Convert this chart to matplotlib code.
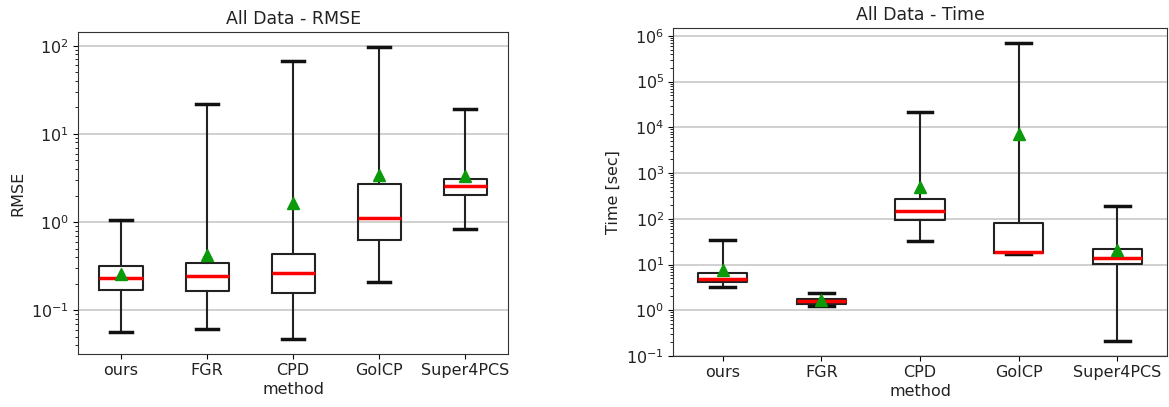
import matplotlib
matplotlib.use("Agg")
import matplotlib.pyplot as plt

plt.rcParams['font.family'] = ['DejaVu Sans']

methods = ['ours', 'FGR', 'CPD', 'GoICP', 'Super4PCS']

# RMSE: min, q1, median, q3, max, mean
rmse_lo = [0.057, 0.062, 0.0466, 0.207, 0.826]
rmse_q1 = [0.171, 0.166, 0.156, 0.63, 2.04]
rmse_med = [0.234, 0.245, 0.267, 1.12, 2.56]
rmse_q3 = [0.315, 0.34, 0.438, 2.72, 3.1]
rmse_hi = [1.06, 21.7, 68.0, 97.5, 19.4]
rmse_mean = [0.256, 0.42, 1.65, 3.43, 3.3]

# Time [sec]
time_lo = [3.24, 1.22, 31.9, 16.8, 0.21]
time_q1 = [4.24, 1.4, 93.6, 18.0, 10.5]
time_med = [4.85, 1.57, 145.0, 18.9, 14.0]
time_q3 = [6.57, 1.8, 270.0, 81.7, 21.7]
time_hi = [33.6, 2.44, 21700.0, 7.0e5, 193.0]
time_mean = [7.5, 1.66, 500.0, 7140.0, 20.6]


def make_stats(lo, q1, med, q3, hi, mean):
    stats = []
    for i in range(len(methods)):
        stats.append({'label': methods[i], 'whislo': lo[i], 'q1': q1[i],
                      'med': med[i], 'q3': q3[i], 'whishi': hi[i],
                      'mean': mean[i], 'fliers': []})
    return stats


def draw(ax, stats, title, ylabel):
    ax.bxp(stats, showmeans=True, patch_artist=False,
           boxprops=dict(color='#222222', linewidth=1.5),
           whiskerprops=dict(color='#222222', linewidth=1.5),
           capprops=dict(color='#111111', linewidth=2.5),
           medianprops=dict(color='red', linewidth=2.5),
           meanprops=dict(marker='^', markerfacecolor='#0a9a0a',
                          markeredgecolor='#0a9a0a', markersize=8))
    ax.set_yscale('log')
    ax.yaxis.grid(True, which='major', color='#c8c8c8', linewidth=1.2)
    ax.set_axisbelow(True)
    ax.set_title(title, fontsize=12.5, color='#222222')
    ax.set_ylabel(ylabel, fontsize=11.5, color='#222222')
    ax.set_xlabel('method', fontsize=11.5, labelpad=2.5, color='#222222')
    ax.tick_params(labelsize=11.5, pad=3, labelcolor='#222222')
    for s in ax.spines.values():
        s.set_color('#333333')


fig = plt.figure(figsize=(11.69, 4.07), dpi=100)
ax1 = fig.add_axes([0.0667, 0.130, 0.368, 0.791])
ax2 = fig.add_axes([0.576, 0.125, 0.422, 0.806])

draw(ax1, make_stats(rmse_lo, rmse_q1, rmse_med, rmse_q3, rmse_hi, rmse_mean),
     'All Data - RMSE', 'RMSE')
draw(ax2, make_stats(time_lo, time_q1, time_med, time_q3, time_hi, time_mean),
     'All Data - Time', 'Time [sec]')

fig.savefig('out.png', dpi=100)
